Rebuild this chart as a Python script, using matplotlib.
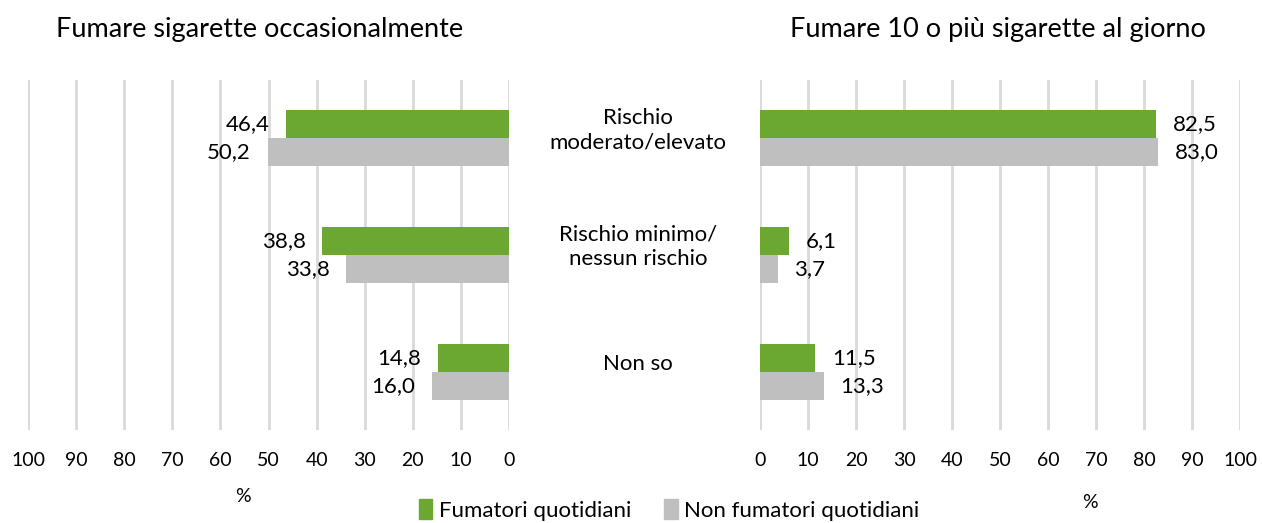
import numpy as np
import matplotlib
matplotlib.use("Agg")
import matplotlib.pyplot as plt
import matplotlib.patches as pat
import matplotlib.transforms as mtrans

plt.rcParams['font.family'] = ['Lato', 'DejaVu Sans']

categorie = ["Rischio\nmoderato/elevato", "Rischio minimo/\nnessun rischio", "Non so"]
occasionali_fum = [46.4, 38.8, 14.8]
occasionali_non = [50.2, 33.8, 16.0]
dieci_fum = [82.5, 6.1, 11.5]
dieci_non = [83.0, 3.7, 13.3]
serie = ["Fumatori quotidiani", "Non fumatori quotidiani"]
titoli = ["Fumare sigarette occasionalmente", "Fumare 10 o più sigarette al giorno"]

verde = '#6aa832'
grigio = '#bfbfbf'
W, H = 1262, 523

fig = plt.figure(figsize=(W/100, H/100), dpi=100)

def px_axes(x0, x1, y0, y1):
    return fig.add_axes([x0/W, 1 - y1/H, (x1 - x0)/W, (y1 - y0)/H])

ax_l = px_axes(28, 509, 80, 430)
ax_r = px_axes(760, 1240, 80, 430)

y = np.arange(len(categorie))
bh = 0.24

def fmt(v):
    return ("%.1f" % v).replace(".", ",")

for ax, fum, non, sinistra in [(ax_l, occasionali_fum, occasionali_non, True),
                               (ax_r, dieci_fum, dieci_non, False)]:
    b1 = ax.barh(y - bh/2, fum, height=bh, color=verde, zorder=3)
    b2 = ax.barh(y + bh/2, non, height=bh, color=grigio, zorder=3)
    ax.set_xlim(100, 0) if sinistra else ax.set_xlim(0, 100)
    ax.set_ylim(len(categorie) - 0.5, -0.5)
    ax.set_xticks(np.arange(0, 101, 10))
    ax.set_yticks([])
    ax.grid(axis='x', color='#d9d9d9', linewidth=2, zorder=0)
    for s in ax.spines.values():
        s.set_visible(False)
    ax.tick_params(axis='x', length=0, labelsize=14, pad=16, colors='#000000')
    for bars, vals in [(b1, fum), (b2, non)]:
        for r, v in zip(bars, vals):
            yc = r.get_y() + r.get_height()/2
            off = -12 if sinistra else 12
            ax.annotate(fmt(v), (v, yc), xytext=(off, 0), textcoords='offset points',
                        ha='right' if sinistra else 'left', va='center', fontsize=16)

# etichette categorie al centro
tr = mtrans.blended_transform_factory(fig.transFigure, ax_r.transData)
for i, c in enumerate(categorie):
    fig.text(638/W, i - 0.07, c, transform=tr, ha='center', va='center',
             fontsize=16, linespacing=1.3)

fig.text(260/W, 1 - 30/H, titoli[0], ha='center', va='center', fontsize=19.5)
fig.text(998/W, 1 - 30/H, titoli[1], ha='center', va='center', fontsize=19.5)
fig.text(243/W, 1 - 497/H, "%", ha='center', va='center', fontsize=14)
fig.text(1090/W, 1 - 503/H, "%", ha='center', va='center', fontsize=14)

handles = [pat.Patch(color=verde), pat.Patch(color=grigio)]
fig.legend(handles, serie, loc='center', bbox_to_anchor=(669/W, 1 - 510/H), ncol=2,
           frameon=False, fontsize=16, handlelength=0.6, handleheight=1.0,
           handletextpad=0.3, columnspacing=1.5, borderpad=0.1)

fig.savefig("out.png", dpi=100)
